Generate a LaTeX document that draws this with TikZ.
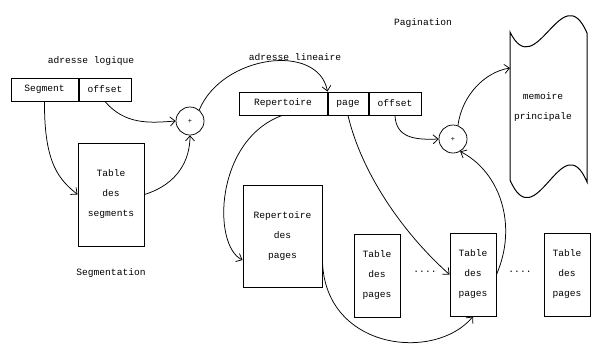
\documentclass[tikz,border=0pt]{standalone}
\usepackage{fontspec}
\newfontfamily\lblfont{Liberation Mono}
\usetikzlibrary{arrows.meta}
\newcommand{\lbl}{\lblfont\fontsize{9.6}{20}\selectfont}
\tikzset{
  cell/.style={draw, line width=1pt, inner sep=0pt, align=center, font=\lbl,
               minimum height=23pt},
  tbl/.style={draw, line width=1pt, inner sep=0pt, align=center, font=\lbl},
  adder/.style={draw, circle, line width=0.75pt, minimum size=28pt, inner sep=0pt,
                font=\lblfont\fontsize{7}{8}\selectfont},
  txt/.style={font=\lbl, inner sep=0pt},
  link/.style={line width=0.75pt, -{Straight Barb[length=5pt,width=9pt]}}
}
\begin{document}
\begin{tikzpicture}[x=1pt,y=-1pt]
\useasboundingbox (0,0) rectangle (597,349);

% titles
\node[txt] (tlog) at (91,61) {adresse logique};
\node[txt] (tseg) at (111,273) {Segmentation};
\node[txt] (tlin) at (295,57) {adresse lineaire};
\node[txt] (tpag) at (423,23) {Pagination};

% logical address
\node[cell, minimum width=67pt] (seg) at (44.5,89.5) {Segment};
\node[cell, minimum width=52pt] (off1) at (105,89.5) {offset};
\node[tbl, minimum width=66pt, minimum height=103pt] (tsg) at (111,194.5) {Table\\des\\segments};
\node[adder] (plus1) at (190,121) {+};

% linear address
\node[cell, minimum width=88pt] (rep) at (283,103.5) {Repertoire};
\node[cell, minimum width=40pt] (page) at (348,103.5) {page};
\node[cell, minimum width=52pt] (off2) at (395,103.5) {offset};
\node[adder] (plus2) at (453,139) {+};

% page tables
\node[tbl, minimum width=79pt, minimum height=102pt] (rdp) at (282.5,236) {Repertoire\\des\\pages};
\node[tbl, minimum width=46pt, minimum height=83pt] (t1) at (377,275.5) {Table\\des\\pages};
\node[tbl, minimum width=46pt, minimum height=83pt] (t2) at (473,274.5) {Table\\des\\pages};
\node[tbl, minimum width=46pt, minimum height=83pt] (t3) at (567,274.5) {Table\\des\\pages};
\node[txt] (dots1) at (425,272) {....};
\node[txt] (dots2) at (520,272) {....};

% main memory
\draw[line width=1pt] (510,32) -- (510,180)
  .. controls (536,240) and (562,123) .. (587,182) -- (587,33)
  .. controls (562,-25) and (536,85) .. cycle;
\node[txt] (mem) at (543,105.5) {\lbl\begin{tabular}{c}memoire\\principale\end{tabular}};
\coordinate (memin) at (510,68);

% connectors
\draw[link] (seg.south) .. controls (44,165) and (60,180) .. (tsg.west);
\draw[link] (off1.south) .. controls (125,125) and (150,123) .. (plus1.west);
\draw[link] (tsg.east) .. controls (178,184) and (190,160) .. (plus1.south);
\draw[link] (plus1.50) .. controls (222,55) and (318,42) .. (page.north west);
\draw[link] ([xshift=-1pt]rep.south) .. controls (215,140) and (212,245) .. ([yshift=-24pt]rdp.west);
\draw[link] (page.south) .. controls (362,175) and (405,235) .. (t2.west);
\draw[link] (off2.south) .. controls (396,138) and (415,140) .. (plus2.west);
\draw[link] (plus2.70) .. controls (462,95) and (485,72) .. (memin);
\draw[link] (t2.east) .. controls (518,225) and (500,172) .. (plus2.-60);
\draw[link] ([yshift=25pt]rdp.south east) .. controls (326,350) and (435,362) .. (t2.south);
\end{tikzpicture}
\end{document}
